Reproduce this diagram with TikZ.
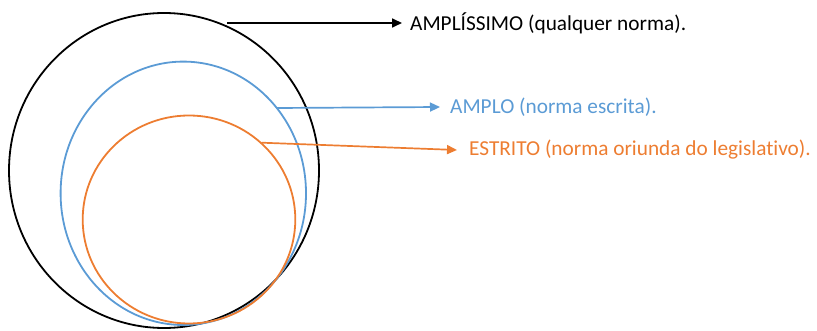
\documentclass[tikz,border=0pt]{standalone}
\usepackage{fontspec}
\setmainfont{Carlito}[Ligatures=NoCommon]
\usetikzlibrary{arrows.meta}
\definecolor{setblue}{HTML}{5B9BD5}
\definecolor{setorange}{HTML}{ED7D31}
\begin{document}
\begin{tikzpicture}[x=1pt,y=-1pt,
  ring/.style={line width=1.8pt},
  pointer/.style={line width=1.7pt,-{Triangle[length=10pt,width=9pt]}},
  caption/.style={anchor=west,inner xsep=8pt,inner ysep=0pt,font=\fontsize{21.3}{25}\selectfont}]
\useasboundingbox (0,0) rectangle (817,331);
% nested sets
\draw[ring,black] (164,170.5) ellipse [x radius=155, y radius=157.5];
\draw[ring,setblue] (183.3,193.3) ellipse [x radius=122.7, y radius=131.7];
\draw[ring,setorange] (189,219.5) ellipse [x radius=106.3, y radius=104];
% where the pointers leave each set
\coordinate (pBlack) at (227,23);
\coordinate (pBlue) at (276.7,108);
\coordinate (pOrange) at (261.7,142.7);
% captions
\node[caption,text=black] (lBlack) at (402,23) {AMPLÍSSIMO (qualquer norma).};
\node[caption,text=setblue,inner xsep=10pt] (lBlue) at (440,107) {AMPLO (norma escrita).};
\node[caption,text=setorange,inner xsep=12pt] (lOrange) at (457,150) {ESTRITO (norma oriunda do legislativo).};
% pointers
\draw[pointer,black] (pBlack) -- (lBlack.west);
\draw[pointer,setblue] (pBlue) -- (lBlue.west);
\draw[pointer,setorange] (pOrange) -- (lOrange.west);
\end{tikzpicture}
\end{document}
